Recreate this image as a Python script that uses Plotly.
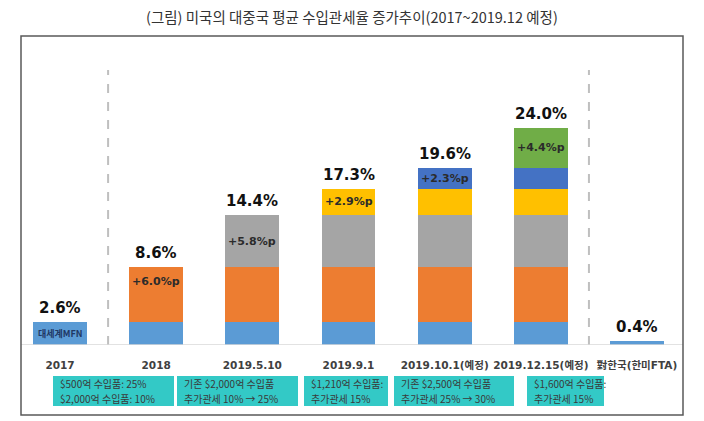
import plotly.graph_objects as go

# ---- data ----
categories = ["2017", "2018", "2019.5.10", "2019.9.1", "2019.10.1(예정)", "2019.12.15(예정)", "對한국(한미FTA)"]
mfn_base = [2.6, 2.6, 2.6, 2.6, 2.6, 2.6, 0.4]
add_2018 = [None, 6.0, 6.0, 6.0, 6.0, 6.0, None]
add_2019_05 = [None, None, 5.8, 5.8, 5.8, 5.8, None]
add_2019_09 = [None, None, None, 2.9, 2.9, 2.9, None]
add_2019_10 = [None, None, None, None, 2.3, 2.3, None]
add_2019_12 = [None, None, None, None, None, 4.4, None]
totals = [2.6, 8.6, 14.4, 17.3, 19.6, 24.0, 0.4]
total_labels = ["2.6%", "8.6%", "14.4%", "17.3%", "19.6%", "24.0%", "0.4%"]
step_labels = ["+6.0%p", "+5.8%p", "+2.9%p", "+2.3%p", "+4.4%p"]
step_values = [6.0, 5.8, 2.9, 2.3, 4.4]
step_categories = [1, 2, 3, 4, 5]
box_line1 = ["$500억 수입품: 25%", "기존 $2,000억 수입품", "$1,210억 수입품:",
             "기존 $2,500억 수입품", "$1,600억 수입품:"]
box_line2 = ["$2,000억 수입품: 10%", "추가관세 10% → 25%", "추가관세 15%",
             "추가관세 25% → 30%", "추가관세 15%"]
title_text = "(그림) 미국의 대중국 평균 수입관세율 증가추이(2017~2019.12 예정)"

# ---- layout/style (not data) ----
W, H = 704, 421
BASE_PX, TOP_PX = 345, 36
PX_PER_UNIT = 9.04
colors = ["#5B9BD5", "#ED7D31", "#A5A5A5", "#FFC000", "#4472C4", "#70AD47"]
box_left_px = [53, 177, 304, 394, 527]
box_right_px = [174, 298, 388, 514, 604]
box_top_px, box_bot_px = 376, 406
line_px = [383.5, 398.5]
step_yshift = [13, 0, 0, 0, 0]
FONT = "DejaVu Sans, Noto Sans CJK KR, sans-serif"
KFONT = "Noto Sans CJK KR, sans-serif"

series = [mfn_base, add_2018, add_2019_05, add_2019_09, add_2019_10, add_2019_12]
xs = list(range(len(categories)))
plot_h = BASE_PX - TOP_PX


def py(px):
    return (BASE_PX - px) / plot_h


fig = go.Figure()
for vals, col in zip(series, colors):
    fig.add_trace(go.Bar(x=xs, y=vals, marker=dict(color=col, line=dict(width=0)),
                         width=0.56, hoverinfo="skip", showlegend=False))

# total labels
for i, (t, lab) in enumerate(zip(totals, total_labels)):
    fig.add_annotation(x=i, y=t, text="<b>%s</b>" % lab, showarrow=False,
                       yanchor="bottom", yshift=3,
                       font=dict(family=FONT, size=15, color="#111111"))

# step labels
cum = [2.6]
for v in step_values:
    cum.append(cum[-1] + v)
for k, (ci, lab, v) in enumerate(zip(step_categories, step_labels, step_values)):
    fig.add_annotation(x=ci, y=cum[k] + v / 2, text="<b>%s</b>" % lab, showarrow=False,
                       yshift=step_yshift[k],
                       font=dict(family=FONT, size=11, color="#2b2b2b"))

# MFN label inside 2017 bar
fig.add_annotation(x=0, y=1.3, text="<b>대세계MFN</b>", showarrow=False,
                   font=dict(family=KFONT, size=9, color="#1f3864"))

# teal boxes
for l, r, t1, t2 in zip(box_left_px, box_right_px, box_line1, box_line2):
    fig.add_shape(type="rect", xref="paper", yref="paper", x0=l / W, x1=r / W,
                  y0=py(box_bot_px), y1=py(box_top_px), fillcolor="#33C9C6",
                  line=dict(width=0), layer="below")
    for t, lp in zip((t1, t2), line_px):
        fig.add_annotation(x=(l + 6) / W, xref="paper", y=py(lp),
                           yref="paper", text=t, showarrow=False, align="left",
                           xanchor="left", yanchor="middle", borderpad=0,
                           font=dict(family=KFONT, size=10, color="#3a3a3a"))

# title
fig.add_annotation(x=0.5, xref="paper", y=py(17), yref="paper",
                   text=title_text, showarrow=False, yanchor="middle",
                   font=dict(family=KFONT, size=14.5, color="#333333"))

# dashed separators
for xv in (0.5, 5.5):
    fig.add_shape(type="line", xref="x", yref="y", x0=xv, x1=xv, y0=0,
                  y1=(BASE_PX - 70) / PX_PER_UNIT,
                  line=dict(color="#BFBFBF", width=2, dash="dash"))

# baseline
fig.add_shape(type="line", xref="paper", yref="y", x0=21 / W, x1=683 / W, y0=0, y1=0,
              line=dict(color="#D9D9D9", width=1.5))

# outer frame
fig.add_shape(type="rect", xref="paper", yref="paper", x0=21 / W, x1=683 / W,
              y0=py(415), y1=1.0, line=dict(color="#595959", width=1.5),
              fillcolor="rgba(0,0,0,0)")

x_lo = -60 / 96.17
x_hi = (W - 60) / 96.17
fig.update_layout(
    width=W, height=H, barmode="stack", bargap=0,
    margin=dict(l=0, r=0, t=TOP_PX, b=H - BASE_PX, autoexpand=False),
    paper_bgcolor="white", plot_bgcolor="white",
    xaxis=dict(range=[x_lo, x_hi], tickmode="array", tickvals=xs,
               ticktext=["<b>%s</b>" % c for c in categories], tickangle=0,
               automargin=False,
               showgrid=False, zeroline=False, showline=False, ticks="",
               ticklabelstandoff=12,
               tickfont=dict(family=FONT, size=10.5, color="#404040"), fixedrange=True),
    yaxis=dict(range=[0, plot_h / PX_PER_UNIT], visible=False, fixedrange=True,
               automargin=False),
)

fig.write_html("out.html", config={"displayModeBar": False},
               post_script="document.body.style.margin='0';document.body.style.overflow='hidden';")
